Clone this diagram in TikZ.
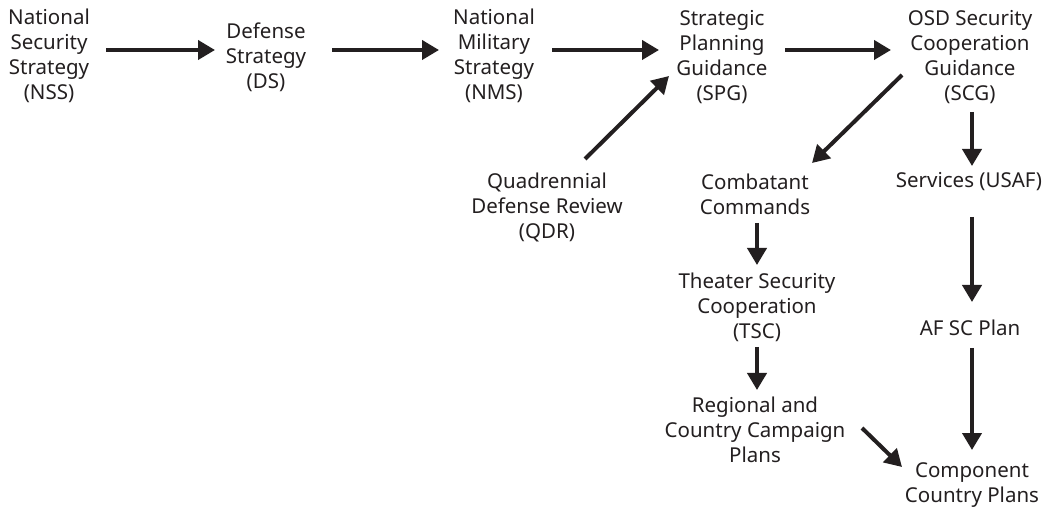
\documentclass[tikz,border=0pt]{standalone}
\usepackage{fontspec}
\setmainfont{Noto Sans}
\usetikzlibrary{arrows.meta}
\definecolor{ink}{HTML}{231F20}
\tikzset{
  lbl/.style={align=center, inner sep=0pt, text=ink, font=\fontsize{20.5}{25}\selectfont},
  arr/.style={draw=ink, line width=4pt, -{Triangle[length=17pt,width=19pt]}}
}
\begin{document}
\begin{tikzpicture}[x=1pt,y=-1pt]
\useasboundingbox[fill=white] (0,0) rectangle (1052,510);
\node[lbl] (nss) at (49,55.5) {National\\Security\\Strategy\\(NSS)};
\node[lbl] (ds) at (266,57.5) {Defense\\Strategy\\(DS)};
\node[lbl] (nms) at (494,55.5) {National\\Military\\Strategy\\(NMS)};
\node[lbl] (spg) at (722,57.5) {Strategic\\Planning\\Guidance\\(SPG)};
\node[lbl] (scg) at (970,57.5) {OSD Security\\Cooperation\\Guidance\\(SCG)};
\node[lbl] (qdr) at (547,207) {Quadrennial\\Defense Review\\(QDR)};
\node[lbl] (cc) at (755,194.5) {Combatant\\Commands};
\node[lbl] (srv) at (969,182) {Services (USAF)};
\node[lbl] (tsc) at (757,307) {Theater Security\\Cooperation\\(TSC)};
\node[lbl] (rcc) at (755,430) {Regional and\\Country Campaign\\Plans};
\node[lbl] (af) at (970,328) {AF SC Plan};
\node[lbl] (comp) at (972,485) {Component\\Country Plans};

\draw[arr] ([shift={(57,-5.5)}]nss.center) -- ([shift={(-51,-7.5)}]ds.center);
\draw[arr] ([shift={(66,-7.5)}]ds.center) -- ([shift={(-55,-5.5)}]nms.center);
\draw[arr] ([shift={(58,-5.5)}]nms.center) -- ([shift={(-63,-7.5)}]spg.center);
\draw[arr] ([shift={(63,-7.5)}]spg.center) -- ([shift={(-79,-7.5)}]scg.center);
\draw[arr] ([shift={(38,-48)}]qdr.center) -- ([shift={(-53,18.5)}]spg.center);
\draw[arr] ([shift={(-68,17.5)}]scg.center) -- ([shift={(57,-31.5)}]cc.center);
\draw[arr] ([shift={(2,54.5)}]scg.center) -- ([shift={(3,-16)}]srv.center);
\draw[arr] ([shift={(2,28.5)}]cc.center) -- ([shift={(0,-42)}]tsc.center);
\draw[arr] ([shift={(0,40)}]tsc.center) -- ([shift={(2,-40)}]rcc.center);
\draw[arr] ([shift={(3,35)}]srv.center) -- ([shift={(2,-26)}]af.center);
\draw[arr] ([shift={(2,20)}]af.center) -- ([shift={(0,-35)}]comp.center);
\draw[arr] ([shift={(107,-2)}]rcc.center) -- ([shift={(-70,-18)}]comp.center);
\end{tikzpicture}
\end{document}
